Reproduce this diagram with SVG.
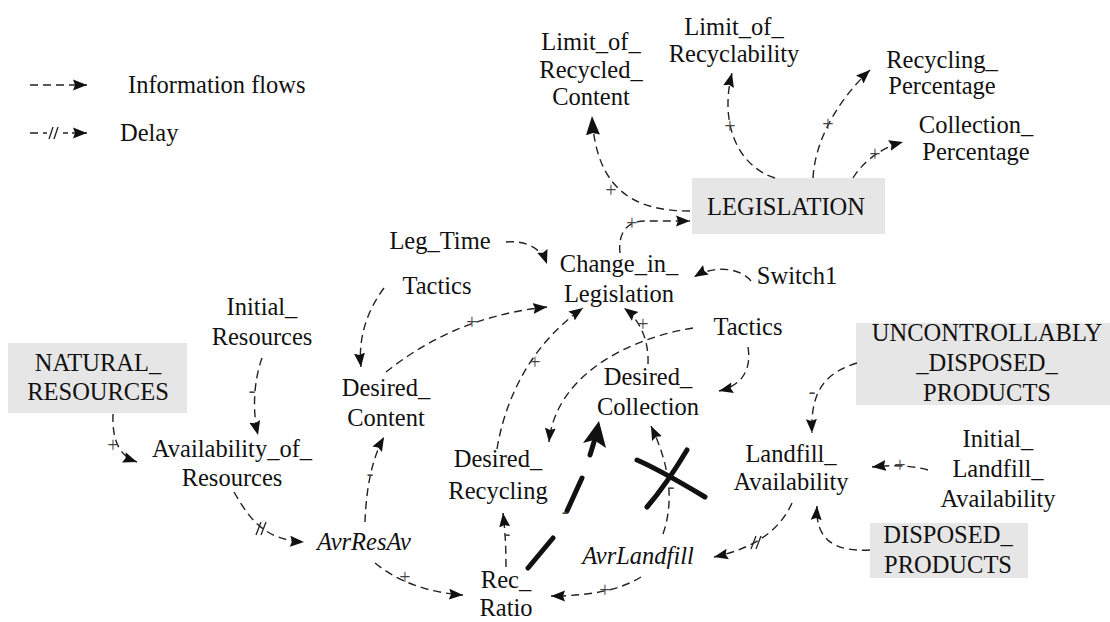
<svg xmlns="http://www.w3.org/2000/svg" width="1110" height="622" viewBox="0 0 1110 622">
  <style>
    text { font-family: "Liberation Serif", "Times New Roman", "DejaVu Serif", serif; font-size: 24.5px; fill: #111; }
    .c { text-anchor: middle; }
    .it { font-style: italic; }
    .sign { font-size: 20px; fill: #444; text-anchor: middle; }
    .box { fill: #e6e6e6; stroke: none; }
    .flow { fill: none; stroke: #222; stroke-width: 1.4; stroke-dasharray: 8 5; marker-end: url(#arrow); }
    .tick { fill: none; stroke: #222; stroke-width: 1.3; }
    .bold { fill: none; stroke: #111; stroke-width: 5; stroke-linecap: round; }
  </style>
  <defs>
    <marker id="arrow" markerUnits="userSpaceOnUse" markerWidth="15" markerHeight="12" refX="14" refY="6" orient="auto">
      <path d="M0,0.5 L14,6 L0,11.5 L2,6 z" fill="#111"/>
    </marker>
    <marker id="arrowBig" markerUnits="userSpaceOnUse" markerWidth="20" markerHeight="14" refX="19" refY="7" orient="auto">
      <path d="M0,0 L19,7 L0,14 L2,7 z" fill="#111"/>
    </marker>
  </defs>

  <rect width="1110" height="622" fill="#ffffff"/>

  <!-- legend -->
  <g id="legend">
    <path class="flow" d="M30,85 L87,85" stroke-dasharray="9 5"/>
    <text x="128" y="93">Information flows</text>
    <path class="tick" d="M30,133 L38,133 M43,133 L47,133 M63,133 L68,133"/>
    <path class="tick" d="M49,139 L53,127 M54,139 L58,127"/>
    <path class="flow" d="M72,133 L87,133" stroke-dasharray="none"/>
    <text x="120" y="141">Delay</text>
  </g>

  <!-- stock boxes -->
  <g id="legislation">
    <rect class="box" x="692" y="178" width="193" height="56"/>
    <text class="c" x="786" y="215">LEGISLATION</text>
  </g>
  <g id="natural-resources">
    <rect class="box" x="8" y="343" width="179" height="70"/>
    <text class="c" x="98" y="371">NATURAL_</text>
    <text class="c" x="98" y="400">RESOURCES</text>
  </g>
  <g id="uncontrollably-disposed-products">
    <rect class="box" x="856" y="323" width="254" height="82"/>
    <text class="c" x="987" y="341">UNCONTROLLABLY</text>
    <text class="c" x="987" y="371">_DISPOSED_</text>
    <text class="c" x="987" y="401">PRODUCTS</text>
  </g>
  <g id="disposed-products">
    <rect class="box" x="870" y="523" width="158" height="55"/>
    <text class="c" x="948" y="543">DISPOSED_</text>
    <text class="c" x="948" y="573">PRODUCTS</text>
  </g>

  <!-- variables -->
  <g id="limit-of-recycled-content">
    <text class="c" x="591" y="50">Limit_of_</text>
    <text class="c" x="591" y="78">Recycled_</text>
    <text class="c" x="591" y="105">Content</text>
  </g>
  <g id="limit-of-recyclability">
    <text class="c" x="734" y="35">Limit_of_</text>
    <text class="c" x="734" y="62">Recyclability</text>
  </g>
  <g id="recycling-percentage">
    <text class="c" x="942" y="68">Recycling_</text>
    <text class="c" x="942" y="94">Percentage</text>
  </g>
  <g id="collection-percentage">
    <text class="c" x="976" y="133">Collection_</text>
    <text class="c" x="976" y="160">Percentage</text>
  </g>
  <g id="leg-time">
    <text class="c" x="440" y="249">Leg_Time</text>
  </g>
  <g id="change-in-legislation">
    <text class="c" x="619" y="272">Change_in_</text>
    <text class="c" x="619" y="302">Legislation</text>
  </g>
  <g id="switch1">
    <text class="c" x="797" y="284">Switch1</text>
  </g>
  <g id="tactics-content">
    <text class="c" x="437" y="294">Tactics</text>
  </g>
  <g id="tactics-collection">
    <text class="c" x="748" y="335">Tactics</text>
  </g>
  <g id="initial-resources">
    <text class="c" x="262" y="315">Initial_</text>
    <text class="c" x="262" y="345">Resources</text>
  </g>
  <g id="desired-content">
    <text class="c" x="386" y="396">Desired_</text>
    <text class="c" x="386" y="426">Content</text>
  </g>
  <g id="desired-collection">
    <text class="c" x="648" y="385">Desired_</text>
    <text class="c" x="648" y="415">Collection</text>
  </g>
  <g id="availability-of-resources">
    <text class="c" x="232" y="457">Availability_of_</text>
    <text class="c" x="232" y="486">Resources</text>
  </g>
  <g id="desired-recycling">
    <text class="c" x="498" y="467">Desired_</text>
    <text class="c" x="498" y="499">Recycling</text>
  </g>
  <g id="landfill-availability">
    <text class="c" x="791" y="462">Landfill_</text>
    <text class="c" x="791" y="490">Availability</text>
  </g>
  <g id="initial-landfill-availability">
    <text class="c" x="998" y="447">Initial_</text>
    <text class="c" x="998" y="477">Landfill_</text>
    <text class="c" x="998" y="507">Availability</text>
  </g>
  <g id="avr-res-av">
    <text class="c it" x="364" y="550">AvrResAv</text>
  </g>
  <g id="avr-landfill">
    <text class="c it" x="638" y="564">AvrLandfill</text>
  </g>
  <g id="rec-ratio">
    <text class="c" x="506" y="588">Rec_</text>
    <text class="c" x="506" y="616">Ratio</text>
  </g>

  <!-- causal links -->
  <g id="connectors">
    <path class="flow" d="M690,211 C640,211 596,195 592,116" style="marker-end:url(#arrowBig)"/>
    <path class="flow" d="M775,178 C735,165 720,120 732,73"/>
    <path class="flow" d="M813,178 C815,140 838,100 870,70"/>
    <path class="flow" d="M853,178 C862,163 880,148 903,142"/>
    <path class="flow" d="M620,253 C618,235 625,221 645,221 L690,221"/>
    <path class="flow" d="M506,242 C528,240 542,250 547,264"/>
    <path class="flow" d="M751,281 C738,266 712,266 694,277"/>
    <path class="flow" d="M384,288 C366,312 358,340 361,367"/>
    <path class="flow" d="M386,372 C420,345 470,315 547,307"/>
    <path class="flow" d="M497,449 C505,400 530,345 583,308"/>
    <path class="flow" d="M648,364 C649,340 640,320 624,308"/>
    <path class="flow" d="M748,347 C752,372 740,386 719,391"/>
    <path class="flow" d="M693,328 C620,340 555,380 549,442"/>
    <path class="flow" d="M262,358 C254,380 252,410 258,435"/>
    <path class="flow" d="M113,414 C112,442 120,456 137,462"/>
    <path class="flow" d="M234,492 C250,520 265,540 304,542"/>
    <path class="flow" d="M365,522 C366,495 370,462 384,437"/>
    <path class="flow" d="M375,563 C398,582 430,593 463,595"/>
    <path class="flow" d="M506,567 C506,545 505,530 503,513"/>
    <path class="flow" d="M663,534 C673,505 672,470 651,426"/>
    <path class="flow" d="M641,577 C620,590 590,596 551,596"/>
    <path class="flow" d="M792,503 C780,530 755,548 714,557"/>
    <path class="flow" d="M870,550 C835,552 815,540 817,506"/>
    <path class="flow" d="M928,470 C910,465 890,465 872,467"/>
    <path class="flow" d="M857,363 C828,372 810,388 812,433"/>

    <!-- delay marks -->
    <path class="tick" d="M256,535 L261,522 M261,535 L266,522"/>
    <path class="tick" d="M751,549 L756,536 M756,549 L761,536"/>

    <!-- emphasised link Rec_Ratio to Desired_Collection -->
    <path class="bold" d="M528,568 L553,538 M567,511 L582,478 M590,455 L594,442"/>
    <path d="M599,421 L583,443 L594,440 L606,448 z" fill="#111"/>

    <!-- crossed-out link -->
    <path class="bold" d="M637,460 C660,470 685,485 705,497"/>
    <path class="bold" d="M687,450 C672,475 660,492 647,507"/>

    <!-- polarity signs -->
    <text class="sign" x="611" y="197">+</text>
    <text class="sign" x="730" y="133">+</text>
    <text class="sign" x="828" y="131">+</text>
    <text class="sign" x="875" y="161">+</text>
    <text class="sign" x="632" y="230">+</text>
    <text class="sign" x="472" y="329">+</text>
    <text class="sign" x="535" y="369">+</text>
    <text class="sign" x="643" y="331">+</text>
    <text class="sign" x="252" y="397">-</text>
    <text class="sign" x="113" y="452">+</text>
    <text class="sign" x="370" y="480">-</text>
    <text class="sign" x="405" y="584">+</text>
    <text class="sign" x="507" y="540">-</text>
    <text class="sign" x="565" y="518">-</text>
    <text class="sign" x="671" y="493">-</text>
    <text class="sign" x="605" y="597">+</text>
    <text class="sign" x="900" y="472">+</text>
    <text class="sign" x="812" y="398">-</text>
  </g>
</svg>
